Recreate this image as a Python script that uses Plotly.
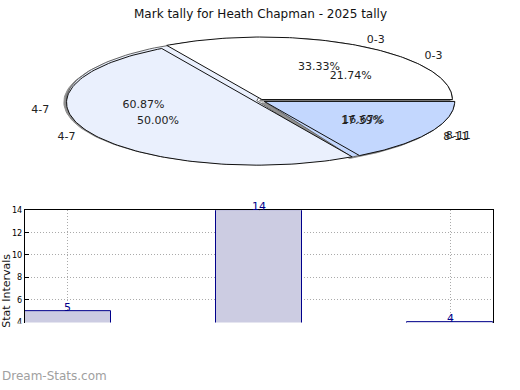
import numpy as np
import plotly.graph_objects as go

# ---------------- data ----------------
title = "Mark tally for Heath Chapman - 2025 tally"
categories = ["0-3", "4-7", "8-11"]
tally_counts = [5, 14, 4]          # bar chart + first pie
pie_b_values = [2, 3, 1]           # second (overlaid) pie: 33.33 / 50 / 16.67 %
slice_colors = ["#ffffff", "#eaf0fd", "#c3d7fe"]
y_ticks = [4, 6, 8, 10, 12, 14]
watermark = "Dream-Stats.com"

W, H = 520, 390
# pie geometry (pixels)
PCX, PCY = 261.7, 97.2
RA, RB = 190.4, 64.0
PR = 1.3  # axis half-range
EXPLODE_A = [0.5, 5.0, 3.0]
EXPLODE_B = [0.5, 5.5, 3.0]

fig = go.Figure()


def px_to_unit(dx_px, dy_px_up):
    return dx_px / RA, dy_px_up / RB


def slice_geom(values):
    vals = np.array(values, float)
    fr = vals / vals.sum()
    out, start = [], 0.0
    for f in fr:
        t0, t1 = start, start + f * 2 * np.pi
        out.append((f, t0, t1, (t0 + t1) / 2))
        start = t1
    return out


def add_pie(values, explode_px, edge, edge_w, shadow=False):
    for i, (f, t0, t1, mid) in enumerate(slice_geom(values)):
        ex, ey = px_to_unit(explode_px[i] * np.cos(mid), explode_px[i] * np.sin(mid))
        if shadow:
            sx, sy = px_to_unit(-2.5, -1.5)
            ex += sx
            ey += sy
        t = np.linspace(t0, t1, 120)
        xs = np.concatenate([[ex], ex + np.cos(t), [ex]])
        ys = np.concatenate([[ey], ey + np.sin(t), [ey]])
        fig.add_trace(go.Scatter(
            x=xs, y=ys, mode="lines", fill="toself",
            fillcolor="#8f8f8f" if shadow else slice_colors[i],
            line=dict(color="#8f8f8f" if shadow else edge, width=edge_w),
            xaxis="x", yaxis="y", hoverinfo="skip", showlegend=False))


def add_pie_labels(values, explode_px):
    for i, (f, t0, t1, mid) in enumerate(slice_geom(values)):
        ex, ey = px_to_unit(explode_px[i] * np.cos(mid), explode_px[i] * np.sin(mid))
        fig.add_trace(go.Scatter(
            x=[ex + 0.6 * np.cos(mid)], y=[ey + 0.6 * np.sin(mid)],
            mode="text", text=[f"{f*100:.2f}%"], textposition="middle center",
            textfont=dict(family="DejaVu Sans", size=11, color="#222"),
            xaxis="x", yaxis="y", cliponaxis=False, hoverinfo="skip", showlegend=False))
        lx, ly = ex + 1.1 * np.cos(mid), ey + 1.1 * np.sin(mid)
        fig.add_trace(go.Scatter(
            x=[lx], y=[ly], mode="text", text=[categories[i]],
            textposition="middle right" if lx >= 0 else "middle left",
            textfont=dict(family="DejaVu Sans", size=11, color="#222"),
            xaxis="x", yaxis="y", cliponaxis=False, hoverinfo="skip", showlegend=False))


# shadow, first pie, second pie (on top), then labels of both
add_pie(tally_counts, EXPLODE_A, "#555", 1, shadow=True)
add_pie(tally_counts, EXPLODE_A, "#666", 1)
add_pie(pie_b_values, EXPLODE_B, "#111", 1)
add_pie_labels(tally_counts, EXPLODE_A)
add_pie_labels(pie_b_values, EXPLODE_B)

# ---------------- bar chart ----------------
xpos = list(range(len(categories)))
fig.add_trace(go.Bar(
    x=xpos, y=tally_counts, width=0.45,
    marker=dict(color="#cccce2", line=dict(color="#00008b", width=1)),
    xaxis="x2", yaxis="y2", showlegend=False, hoverinfo="skip"))

bar_labels = [dict(text=str(v), x=xi, y=v, xref="x2", yref="y2",
                   xanchor="center", yanchor="bottom", yshift=-5, showarrow=False,
                   font=dict(family="DejaVu Sans", size=11, color="#00008b"))
              for xi, v in zip(xpos, tally_counts)]

# domains
pie_x0 = (PCX - PR * RA) / W
pie_x1 = (PCX + PR * RA) / W
pie_y0 = 1 - (PCY + PR * RB) / H
pie_y1 = 1 - (PCY - PR * RB) / H

bx0, bx1 = 25 / W, 493 / W
by_top, by_bot = 210, 325
GRID_DASH = "1px,2px"

fig.update_layout(
    width=W, height=H, margin=dict(l=0, r=0, t=0, b=0),
    paper_bgcolor="white", plot_bgcolor="white",
    showlegend=False, bargap=0,
    xaxis=dict(domain=[pie_x0, pie_x1], range=[-PR, PR], visible=False, fixedrange=True),
    yaxis=dict(domain=[pie_y0, pie_y1], range=[-PR, PR], visible=False, fixedrange=True),
    xaxis2=dict(domain=[bx0, bx1], range=[-0.225, 2.225], anchor="y2", side="top",
                tickvals=xpos, showticklabels=False, ticks="",
                showgrid=True, gridcolor="#aaaaaa", griddash=GRID_DASH, gridwidth=1,
                showline=True, linecolor="black", linewidth=1, mirror=False, zeroline=False),
    yaxis2=dict(domain=[1 - by_bot / H, 1 - by_top / H], range=[3.94, 14], anchor="x2",
                tickvals=y_ticks, ticks="inside", ticklen=4, tickcolor="black",
                tickfont=dict(family="DejaVu Sans Condensed, DejaVu Sans", size=9, color="black"),
                showgrid=True, gridcolor="#aaaaaa", griddash=GRID_DASH, gridwidth=1,
                showline=True, linecolor="black", linewidth=1, mirror=True, zeroline=False),
    font=dict(family="DejaVu Sans", color="#222"),
    annotations=bar_labels + [
        dict(text=title, xref="paper", yref="paper", x=260 / W, y=1 - 9 / H,
             xanchor="center", yanchor="middle", showarrow=False,
             font=dict(family="DejaVu Sans", size=12, color="#111")),
        dict(text="Stat Intervals", xref="paper", yref="paper", x=-0.004, y=1 - 292 / H,
             xanchor="left", yanchor="middle", textangle=-90, showarrow=False,
             font=dict(family="DejaVu Sans", size=11, color="#111")),
        dict(text=watermark, xref="paper", yref="paper", x=0, y=1 - 380 / H,
             xanchor="left", yanchor="middle", showarrow=False,
             font=dict(family="DejaVu Sans", size=12, color="#a0a0a0")),
    ],
    shapes=[dict(type="rect", xref="paper", yref="paper", x0=0, x1=1,
                 y0=1 - 372 / H, y1=1 - 326 / H, fillcolor="white",
                 line=dict(width=0), layer="above")],
)

fig.write_html("out.html", config={"displayModeBar": False},
               post_script="document.body.style.margin='0';document.body.style.overflow='hidden';")
